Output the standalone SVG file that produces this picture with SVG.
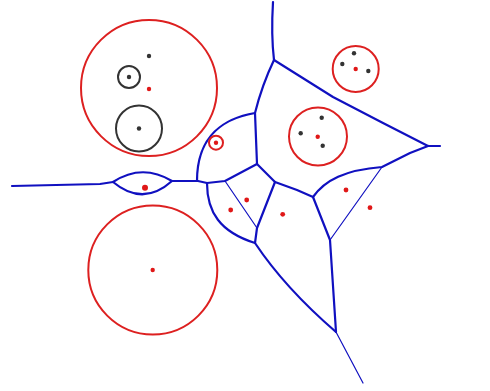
<svg xmlns="http://www.w3.org/2000/svg" width="490" height="391" viewBox="0 0 490 391">
<style>
.e{fill:none;stroke:#1010c0;stroke-width:2.2;stroke-linejoin:round;stroke-linecap:round}
.t{fill:none;stroke:#1010c0;stroke-width:1.2;stroke-linecap:round}
.rc{fill:none;stroke:#dd2020;stroke-width:2}
.kc{fill:none;stroke:#333;stroke-width:2}
.rd{fill:#e01818}
.kd{fill:#333}
</style>
<rect width="490" height="391" fill="#fff"/>
<g id="connectors">
<path class="e" d="M273,2 Q271,35 274,60"/>
<path class="e" d="M274,60 L333,97 L383,123 L428,146 L440,146"/>
<path class="e" d="M274,60 Q262,85 255,113 L257,164"/>
<path class="e" d="M255,113 C225,118 197,135 197,181"/>
<path class="e" d="M12,186 L100,184 L113,182"/>
<path class="e" d="M113,182 Q142,163 172,181 Q143,207 113,182"/>
<path class="e" d="M172,181 L198,181 L207,183 L225,181 L257,164"/>
<path class="e" d="M257,164 L275,182 L297,190 L313,197"/>
<path class="e" d="M275,182 L257,228 L255,243"/>
<path class="e" d="M207,183 C207,212 220,232 255,243"/>
<path class="e" d="M255,243 Q285,288 336,332"/>
<path class="e" d="M313,197 C325,180 345,170 382,167 L410,153 L428,146"/>
<path class="e" d="M313,197 L330,240 L336,332"/>
<path class="t" d="M225,181 L257,228"/>
<path class="t" d="M382,167 L330,240"/>
<path class="t" d="M336,332 L363,383"/>
</g>
<g id="cluster-big">
<circle class="rc" cx="149" cy="88" r="68"/>
<circle class="kc" cx="129" cy="77" r="11"/>
<circle class="kc" cx="139" cy="128.5" r="23"/>
<circle class="kd" cx="149" cy="56" r="2.2"/>
<circle class="kd" cx="129" cy="77" r="2.2"/>
<circle class="kd" cx="139" cy="128.5" r="2.2"/>
<circle class="rd" cx="149" cy="89" r="2.2"/>
</g>
<g id="cluster-small">
<circle class="rc" cx="216" cy="142.7" r="7"/>
<circle class="rd" cx="216" cy="142.7" r="2.2"/>
</g>
<g id="cluster-topright">
<circle class="rc" cx="355.7" cy="69" r="23"/>
<circle class="kd" cx="354" cy="53.3" r="2.2"/>
<circle class="kd" cx="342.3" cy="64" r="2.2"/>
<circle class="kd" cx="368.3" cy="71" r="2.2"/>
<circle class="rd" cx="355.7" cy="69" r="2.2"/>
</g>
<g id="cluster-mid">
<circle class="rc" cx="318" cy="136.5" r="29"/>
<circle class="kd" cx="321.7" cy="117.7" r="2.2"/>
<circle class="kd" cx="300.7" cy="133.3" r="2.2"/>
<circle class="kd" cx="322.7" cy="145.7" r="2.2"/>
<circle class="rd" cx="317.7" cy="136.7" r="2.2"/>
</g>
<g id="cluster-bottom">
<circle class="rc" cx="152.8" cy="270" r="64.5"/>
<circle class="rd" cx="152.7" cy="270" r="2.2"/>
</g>
<g id="sites">
<circle class="rd" cx="145" cy="187.7" r="3"/>
<circle class="rd" cx="246.7" cy="200" r="2.4"/>
<circle class="rd" cx="230.7" cy="210" r="2.4"/>
<circle class="rd" cx="282.7" cy="214.3" r="2.4"/>
<circle class="rd" cx="346" cy="190" r="2.4"/>
<circle class="rd" cx="370" cy="207.7" r="2.4"/>
</g>
</svg>
